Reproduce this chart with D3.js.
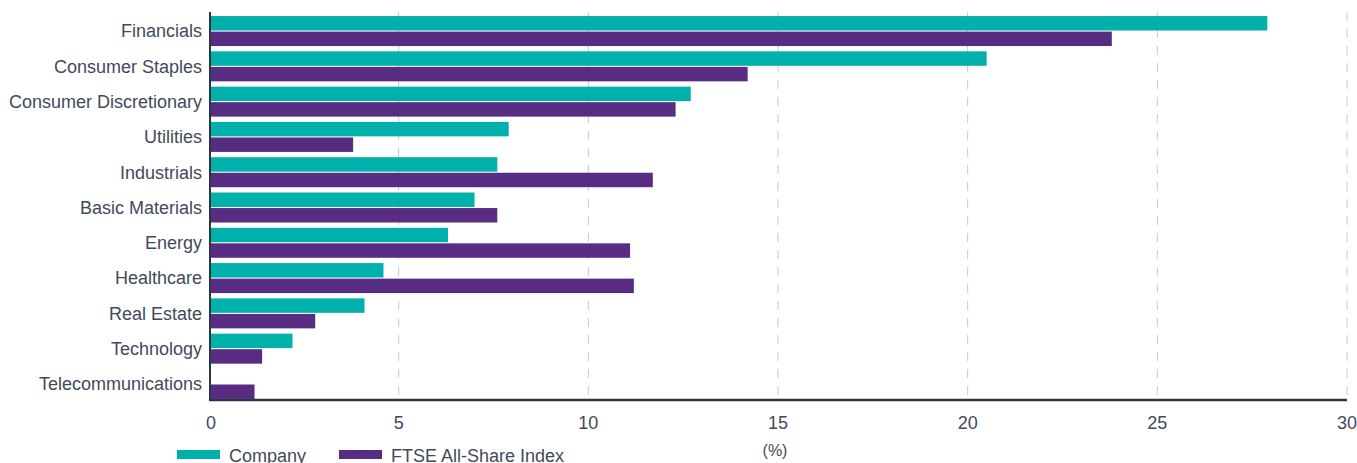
<!DOCTYPE html>
<html>
<head>
<meta charset="utf-8">
<script src="https://cdn.jsdelivr.net/npm/d3@7"></script>
<style>
  body { margin: 0; background: #fff; }
  svg text { font-family: "Liberation Sans", Arial, sans-serif; fill: #3f4a5b; }
</style>
</head>
<body>
<div id="chart"></div>
<script>
// sector weights, %
var sectors = ["Financials", "Consumer Staples", "Consumer Discretionary", "Utilities", "Industrials",
  "Basic Materials", "Energy", "Healthcare", "Real Estate", "Technology", "Telecommunications"];
var company = [27.9, 20.5, 12.7, 7.9, 7.6, 7.0, 6.3, 4.6, 4.1, 2.2, 0];
var ftse = [23.8, 14.2, 12.3, 3.8, 11.7, 7.6, 11.1, 11.2, 2.8, 1.4, 1.2];
var seriesNames = ["Company", "FTSE All-Share Index"];
var xTicks = [0, 5, 10, 15, 20, 25, 30];

var colors = ["#00b0aa", "#582c83"];
var W = 1357, H = 463;
var mLeft = 209, mRight = 1347, mTop = 12, mBottom = 400;

var svg = d3.select("#chart").append("svg")
  .attr("width", W).attr("height", H);

var x = d3.scaleLinear().domain([0, 30]).range([mLeft, mRight]);
var y = d3.scaleBand().domain(sectors).range([mTop + 3, mBottom]).paddingInner(0.15).paddingOuter(0.03);
var sub = d3.scaleBand().domain([0, 1]).range([0, y.bandwidth()]).paddingInner(0.07);

// grid
svg.append("g").selectAll("line")
  .data(xTicks.slice(1))
  .enter().append("line")
  .attr("x1", d => x(d)).attr("x2", d => x(d))
  .attr("y1", mTop).attr("y2", mBottom)
  .attr("stroke", "#c9c9ce").attr("stroke-width", 1)
  .attr("stroke-dasharray", "9,8");

// bars
var rows = sectors.map((s, i) => ({ name: s, vals: [company[i], ftse[i]] }));
var g = svg.append("g").selectAll("g")
  .data(rows).enter().append("g")
  .attr("transform", d => "translate(0," + y(d.name) + ")");

g.selectAll("rect")
  .data(d => d.vals)
  .enter().append("rect")
  .attr("x", x(0))
  .attr("y", (d, i) => sub(i))
  .attr("width", d => x(d) - x(0))
  .attr("height", sub.bandwidth())
  .attr("fill", (d, i) => colors[i]);

// category labels
svg.append("g").selectAll("text")
  .data(sectors).enter().append("text")
  .attr("x", mLeft - 7)
  .attr("y", d => y(d) + y.bandwidth() / 2)
  .attr("dy", "0.35em")
  .attr("text-anchor", "end")
  .attr("font-size", 18)
  .text(d => d);

// axes lines
svg.append("line")
  .attr("x1", mLeft + 1).attr("x2", mLeft + 1).attr("y1", mTop).attr("y2", mBottom)
  .attr("stroke", "#2b3645").attr("stroke-width", 2);
svg.append("line")
  .attr("x1", mLeft).attr("x2", mRight).attr("y1", mBottom).attr("y2", mBottom)
  .attr("stroke", "#2b3645").attr("stroke-width", 2.5);

// x tick labels
svg.append("g").selectAll("text")
  .data(xTicks).enter().append("text")
  .attr("x", d => x(d) + (d === 0 ? 2 : 0))
  .attr("y", 429)
  .attr("text-anchor", "middle")
  .attr("font-size", 18)
  .text(d => d);

svg.append("text")
  .attr("x", x(15) - 3).attr("y", 456)
  .attr("text-anchor", "middle")
  .attr("font-size", 16)
  .text("(%)");

// legend
var legX = [177, 339];
var leg = svg.append("g").selectAll("g")
  .data(seriesNames).enter().append("g")
  .attr("transform", (d, i) => "translate(" + legX[i] + ",450)");
leg.append("rect")
  .attr("width", 43).attr("height", 9)
  .attr("fill", (d, i) => colors[i]);
leg.append("text")
  .attr("x", 52).attr("y", 12)
  .attr("font-size", 18)
  .text(d => d);
</script>
</body>
</html>
